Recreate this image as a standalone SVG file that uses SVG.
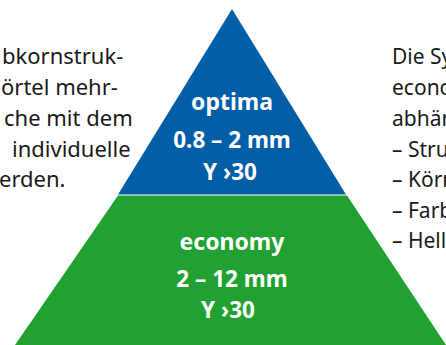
<svg xmlns="http://www.w3.org/2000/svg" width="446" height="345" viewBox="0 0 446 345">
  <style>
    .body { font-family: "Noto Sans", "Open Sans", sans-serif; font-size: 22px; fill: #1a1a1a; }
    .right { font-size: 21px; }
    .lbl { font-family: "Noto Sans", "Open Sans", sans-serif; font-weight: bold; fill: #ffffff; text-anchor: middle; }
    .title { font-size: 23px; }
    .val { font-size: 22.5px; }
  </style>
  <rect width="446" height="345" fill="#ffffff"/>
  <g id="text-left" class="body">
    <text x="2" y="64">bkornstruk-</text>
    <text x="1" y="95">örtel mehr-</text>
    <text x="4" y="126">che mit dem</text>
    <text x="12" y="157">individuelle</text>
    <text x="-1" y="187">erden.</text>
  </g>
  <g id="text-right" class="body right">
    <text x="392" y="64">Die Sy</text>
    <text x="392" y="95">econo</text>
    <text x="392" y="126">abhän</text>
    <text x="392" y="157">– Stru</text>
    <text x="392" y="187">– Körn</text>
    <text x="392" y="218">– Farb</text>
    <text x="392" y="248">– Hell</text>
  </g>
  <g id="optima">
    <polygon points="232,9 118,194.6 346,194.6" fill="#035ea8"/>
    <text class="lbl title" x="232" y="110">optima</text>
    <text class="lbl val" x="232" y="148">0.8 – 2 mm</text>
    <text class="lbl val" x="230" y="180">Y ›30</text>
  </g>
  <g id="economy">
    <polygon points="118,195.6 347,195.6 446,345 15,345" fill="#21a132"/>
    <text class="lbl title" x="232" y="250">economy</text>
    <text class="lbl val" x="232" y="287">2 – 12 mm</text>
    <text class="lbl val" x="228" y="318">Y ›30</text>
  </g>
  <g id="connectors"/>
</svg>
